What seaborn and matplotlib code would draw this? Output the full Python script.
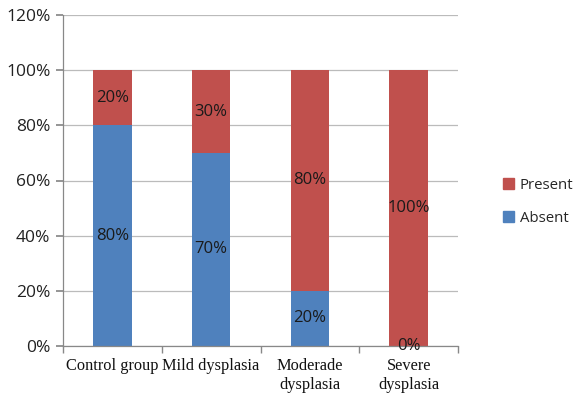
import matplotlib
matplotlib.use("Agg")
import matplotlib.pyplot as plt
import seaborn as sns
import pandas as pd
from matplotlib.patches import Patch

categories = ["Control group", "Mild dysplasia", "Moderade\ndysplasia", "Severe\ndysplasia"]
absent = [80, 70, 20, 0]
present = [20, 30, 80, 100]
yticks = [0, 20, 40, 60, 80, 100, 120]

RED = "#C0504D"
BLUE = "#4F81BD"

sns.set_theme(style="white")
plt.rcParams['font.family'] = ['Open Sans', 'DejaVu Sans']

df = pd.DataFrame({"cat": categories, "absent": absent, "present": present})

fig = plt.figure(figsize=(5.74, 4.05), dpi=100)
ax = fig.add_axes([63/574, 1-346/405, (458-63)/574, (346-15)/405])

sns.barplot(data=df, x="cat", y="absent", color=BLUE, width=0.39, ax=ax,
            saturation=1, linewidth=0, zorder=2)
sns.barplot(data=df, x="cat", y="present", color=RED, width=0.39, ax=ax,
            saturation=1, linewidth=0, bottom=df["absent"].values, zorder=2)

for i, (a, p) in enumerate(zip(absent, present)):
    ax.text(i, a / 2, f"{a}%", ha="center", va="center", fontsize=12, color="#1a1a1a", zorder=3)
    ax.text(i, a + p / 2, f"{p}%", ha="center", va="center", fontsize=12, color="#1a1a1a", zorder=3)

ax.set_ylim(0, 120)
ax.set_xlim(-0.5, 3.5)
ax.set_yticks(yticks)
ax.set_yticklabels([f"{t}%" for t in yticks], fontsize=12.5, color="#222222")
ax.set_xticks(range(len(categories)))
ax.set_xticklabels(categories, family=["Liberation Serif"], fontsize=11.8, color="#111111")
ax.set_xticks([-0.5, 0.5, 1.5, 2.5, 3.5], minor=True)
ax.tick_params(axis="x", which="major", length=0, pad=9)
ax.tick_params(axis="x", which="minor", length=5, color="#888888", direction="out", bottom=True)
ax.tick_params(axis="y", length=5, color="#888888", direction="out", left=True, pad=4)
ax.set_xlabel("")
ax.set_ylabel("")
ax.yaxis.grid(True, color="#BBBBBB", linewidth=0.9, zorder=0)
ax.set_axisbelow(True)
for s in ["top", "right"]:
    ax.spines[s].set_visible(False)
for s in ["left", "bottom"]:
    ax.spines[s].set_color("#888888")
    ax.spines[s].set_linewidth(0.9)

handles = [Patch(color=RED, label="Present"), Patch(color=BLUE, label="Absent")]
fig.legend(handles=handles, loc="center left", bbox_to_anchor=(503/574, 1-202/405),
           frameon=False, fontsize=10.8, handlelength=0.75, handleheight=0.75,
           handletextpad=0.35, labelspacing=1.2, borderpad=0, borderaxespad=0)

fig.savefig("out.png", dpi=100)
